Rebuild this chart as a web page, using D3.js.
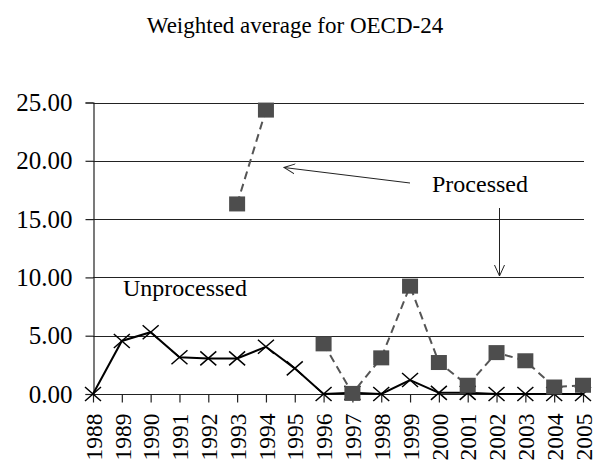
<!DOCTYPE html>
<html>
<head>
<meta charset="utf-8">
<script src="https://cdn.jsdelivr.net/npm/d3@7/dist/d3.min.js"></script>
<style>
  body { margin: 0; background: #fff; }
  svg text { font-family: "Liberation Serif", "Times New Roman", Times, Tinos, "DejaVu Serif", serif; fill: #000; }
</style>
</head>
<body>
<svg id="chart" width="593" height="462"></svg>
<script>
// categories and series
var years = ['1988','1989','1990','1991','1992','1993','1994','1995','1996',
             '1997','1998','1999','2000','2001','2002','2003','2004','2005'];
var unprocessed = [0, 4.55, 5.3, 3.15, 3.05, 3.05, 4.05, 2.2, 0, 0.1, 0, 1.2, 0.1, 0.1, 0, 0, 0, 0];
var processed = [null, null, null, null, null, 16.3, 24.35, null, 4.3, 0.05, 3.1,
                 9.25, 2.7, 0.75, 3.55, 2.85, 0.6, 0.75];
var yTicks = [0, 5, 10, 15, 20, 25];

var serif = '"Liberation Serif", "Times New Roman", Times, Tinos, "DejaVu Serif", serif';

var svg = d3.select('#chart');

var margin = {left: 93, right: 584, top: 102.5, bottom: 394};

var x = d3.scalePoint()
    .domain(years)
    .range([margin.left, 583]);

var y = d3.scaleLinear()
    .domain([0, 25])
    .range([margin.bottom, margin.top]);

// title
svg.append('text')
    .attr('x', 295)
    .attr('y', 33)
    .attr('text-anchor', 'middle')
    .style('font-family', serif)
    .style('font-size', '23px')
    .text('Weighted average for OECD-24');

// horizontal gridlines (the 0 line doubles as x axis)
svg.append('g').selectAll('line')
    .data(yTicks)
    .enter().append('line')
    .attr('x1', margin.left)
    .attr('x2', margin.right)
    .attr('y1', function(d) { return Math.round(y(d)) + 0.5; })
    .attr('y2', function(d) { return Math.round(y(d)) + 0.5; })
    .attr('stroke', '#222')
    .attr('stroke-width', 1.2);

// y axis through the library, ticks pointing left
var yAxis = d3.axisLeft(y)
    .tickValues(yTicks)
    .tickSize(8)
    .tickPadding(13)
    .tickFormat(d3.format('.2f'));

var gy = svg.append('g')
    .attr('transform', 'translate(' + (margin.left + 0.5) + ',0)')
    .call(yAxis)
    .attr('font-family', null);
gy.select('.domain').attr('stroke', '#222').attr('stroke-width', 1.2);
gy.selectAll('.tick line').attr('stroke', '#222').attr('stroke-width', 1.2);
gy.selectAll('.tick text')
    .style('font-family', serif)
    .style('font-size', '25px')
    .attr('fill', '#000');

// x axis: ticks down, rotated year labels
var xAxis = d3.axisBottom(x).tickSize(8).tickSizeOuter(0);
var gx = svg.append('g')
    .attr('transform', 'translate(0,' + (Math.round(y(0)) + 0.5) + ')')
    .call(xAxis)
    .attr('font-family', null);
gx.select('.domain').remove();
gx.selectAll('.tick line').attr('stroke', '#222').attr('stroke-width', 1.2);
gx.selectAll('.tick text')
    .style('font-family', serif)
    .style('font-size', '23.5px')
    .attr('fill', '#000')
    .attr('text-anchor', 'end')
    .attr('transform', 'translate(0,19) rotate(-90)')
    .attr('x', 0)
    .attr('y', 0)
    .attr('dy', '0.35em');

// unprocessed series: solid black with X markers
var lineU = d3.line()
    .x(function(d, i) { return x(years[i]); })
    .y(function(d) { return y(d); });

svg.append('path')
    .datum(unprocessed)
    .attr('d', lineU)
    .attr('fill', 'none')
    .attr('stroke', '#000')
    .attr('stroke-width', 2);

svg.append('g').selectAll('path')
    .data(unprocessed)
    .enter().append('path')
    .attr('d', function(d, i) {
        var cx = x(years[i]), cy = y(d), w = 8, h = 7;
        return 'M' + (cx - w) + ',' + (cy - h) + 'L' + (cx + w) + ',' + (cy + h) +
               'M' + (cx - w) + ',' + (cy + h) + 'L' + (cx + w) + ',' + (cy - h);
    })
    .attr('stroke', '#000')
    .attr('stroke-width', 1.5)
    .attr('fill', 'none');

// processed series: dashed grey with square markers, gap where no value
var lineP = d3.line()
    .defined(function(d) { return d !== null; })
    .x(function(d, i) { return x(years[i]); })
    .y(function(d) { return y(d); });

svg.append('path')
    .datum(processed)
    .attr('d', lineP)
    .attr('fill', 'none')
    .attr('stroke', '#555')
    .attr('stroke-width', 2)
    .attr('stroke-dasharray', '8,5');

var sq = 16;
svg.append('g').selectAll('rect')
    .data(processed.map(function(v, i) { return {year: years[i], v: v}; })
        .filter(function(d) { return d.v !== null; }))
    .enter().append('rect')
    .attr('x', function(d) { return x(d.year) - sq / 2; })
    .attr('y', function(d) { return y(d.v) - sq / 2 + 0.5; })
    .attr('width', sq)
    .attr('height', sq - 1)
    .attr('fill', '#4d4d4d');

// open arrowhead marker
svg.append('defs').append('marker')
    .attr('id', 'vhead')
    .attr('viewBox', '0 -6 12 12')
    .attr('refX', 11)
    .attr('refY', 0)
    .attr('markerWidth', 12)
    .attr('markerHeight', 12)
    .attr('markerUnits', 'userSpaceOnUse')
    .attr('orient', 'auto')
    .append('path')
    .attr('d', 'M0,-5L11,0L0,5')
    .attr('fill', 'none')
    .attr('stroke', '#222')
    .attr('stroke-width', 1);

// annotations
svg.append('text')
    .attr('x', 432)
    .attr('y', 192)
    .style('font-family', serif)
    .style('font-size', '24px')
    .text('Processed');

svg.append('text')
    .attr('x', 123)
    .attr('y', 296)
    .style('font-family', serif)
    .style('font-size', '24px')
    .text('Unprocessed');

svg.append('line')
    .attr('x1', 410).attr('y1', 183)
    .attr('x2', 284).attr('y2', 167.5)
    .attr('stroke', '#222')
    .attr('stroke-width', 1)
    .attr('marker-end', 'url(#vhead)');

svg.append('line')
    .attr('x1', 499.5).attr('y1', 208)
    .attr('x2', 499.5).attr('y2', 276)
    .attr('stroke', '#222')
    .attr('stroke-width', 1)
    .attr('marker-end', 'url(#vhead)');
</script>
</body>
</html>
